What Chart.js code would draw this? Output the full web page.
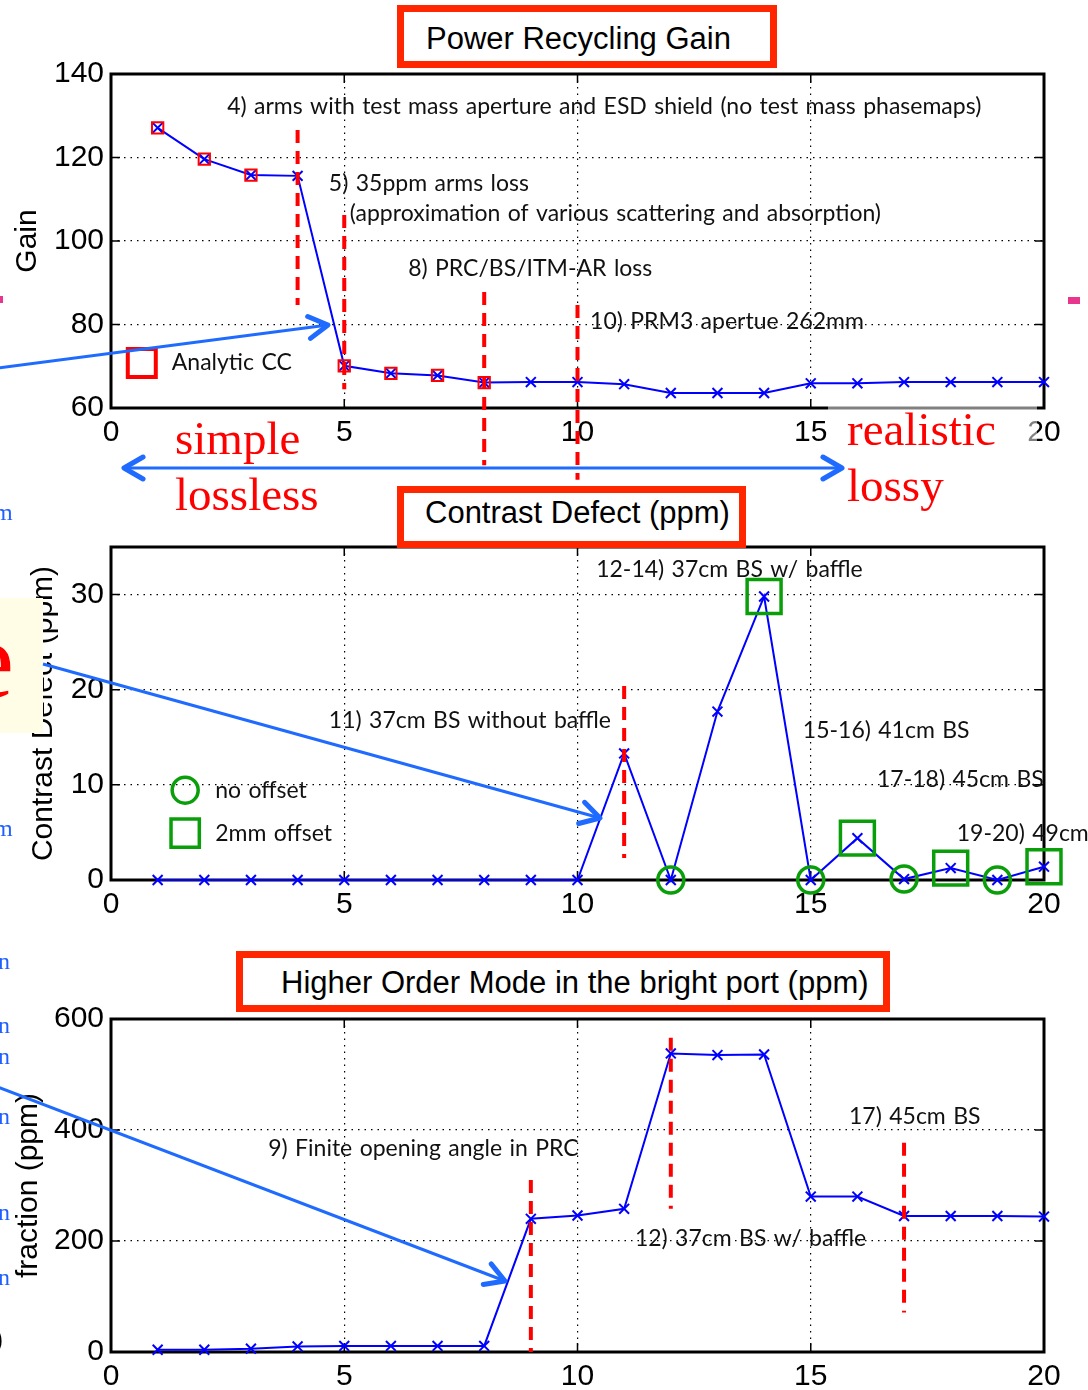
<!DOCTYPE html>
<html>
<head>
<meta charset="utf-8">
<script src="https://cdn.jsdelivr.net/npm/chart.js@4.4.1/dist/chart.umd.min.js"></script>
<style>
  html, body { margin: 0; padding: 0; background: #fff; }
  #page { position: relative; width: 1088px; height: 1390px; overflow: hidden; background: #fff; }
  .plot { position: absolute; left: 0; }
  #overlay { position: absolute; left: 0; top: 0; z-index: 5; pointer-events: none; }
  .tbox {
    position: absolute; box-sizing: border-box; border: 7px solid #ff2600; background: #fff; z-index: 4;
    font-family: "Liberation Sans", Arial, sans-serif; font-size: 31px; color: #000;
    display: flex; align-items: center; justify-content: flex-start; white-space: nowrap;
  }
</style>
</head>
<body>
<div id="page">
  <canvas id="gainChart" class="plot" style="top:0px"></canvas>
  <canvas id="cdChart" class="plot" style="top:486px"></canvas>
  <canvas id="homChart" class="plot" style="top:940px"></canvas>
  <div class="tbox" style="left:397px;top:5px;width:380px;height:63px;padding:4px 0 0 22px;">Power Recycling Gain</div>
  <div class="tbox" style="left:397px;top:486px;width:349px;height:62px;padding:0 0 9px 21px;">Contrast Defect (ppm)</div>
  <div class="tbox" style="left:236px;top:951px;width:654px;height:61px;padding:2px 0 0 38px;">Higher Order Mode in the bright port (ppm)</div>
  <canvas id="overlay" width="1088" height="1390"></canvas>
</div>

<script>
// ---- simulation steps (x axis) ----
const steps = [1, 2, 3, 4, 5, 6, 7, 8, 9, 10, 11, 12, 13, 14, 15, 16, 17, 18, 19, 20];
const xTicks = [0, 5, 10, 15, 20];

// ---- power recycling gain ----
const gain = [127.1, 119.6, 115.8, 115.6, 70.1, 68.3, 67.8, 66.1, 66.2, 66.2,
              65.7, 63.6, 63.6, 63.6, 65.9, 65.9, 66.2, 66.2, 66.2, 66.2];
const analyticSteps = [1, 2, 3, 5, 6, 7, 8];
const analyticGain = [127.1, 119.6, 115.8, 70.1, 68.3, 67.8, 66.1];
const gainTicks = [60, 80, 100, 120, 140];

// ---- contrast defect (ppm) ----
const contrast = [0, 0, 0, 0, 0, 0, 0, 0, 0, 0,
                  13.3, 0, 17.7, 29.8, 0, 4.4, 0.1, 1.25, 0, 1.4];
const noOffsetSteps = [12, 15, 17, 19];
const noOffsetCD = [0, 0, 0.1, 0];
const offsetSteps = [14, 16, 18, 20];
const offsetCD = [29.8, 4.4, 1.25, 1.4];
const cdTicks = [0, 10, 20, 30];

// ---- higher order mode content in the bright port (ppm) ----
const hom = [4, 4, 6, 10, 11, 11, 11, 11, 240, 246,
             258, 538, 535, 536, 280, 280, 245, 245, 245, 244];
const homTicks = [0, 200, 400, 600];

// ---- text notes and step markers ----
const gainNotes = [
  { x: 2.49, y: 132.1, text: '4) arms with test mass aperture and ESD shield (no test mass phasemaps)' },
  { x: 4.67, y: 113.7, text: '5) 35ppm arms loss' },
  { x: 5.12, y: 106.5, text: '(approximation of various scattering and absorption)' },
  { x: 6.37, y: 93.5, text: '8) PRC/BS/ITM-AR loss' },
  { x: 10.27, y: 80.8, text: '10) PRM3 apertue 262mm' }
];
const gainCuts = [
  { x: 4, from: 84.7, to: 126.6 },
  { x: 5, from: 64.5, to: 106.2 },
  { x: 8, from: 46.3, to: 87.8 },
  { x: 10, from: 42.8, to: 84.7 }
];
const cdNotes = [
  { x: 10.4, y: 32.6, text: '12-14) 37cm BS w/ baffle' },
  { x: 4.67, y: 16.8, text: '11) 37cm BS without baffle' },
  { x: 14.83, y: 15.7, text: '15-16) 41cm BS' },
  { x: 16.42, y: 10.6, text: '17-18) 45cm BS' },
  { x: 18.13, y: 4.9, text: '19-20) 49cm BS' }
];
const cdCuts = [ { x: 11, from: 2.3, to: 20.4 } ];
const homNotes = [
  { x: 3.37, y: 366, text: '9) Finite opening angle in PRC' },
  { x: 15.82, y: 425, text: '17) 45cm BS' },
  { x: 11.23, y: 204, text: '12) 37cm BS w/ baffle' }
];
const homCuts = [
  { x: 9, from: 0, to: 310 },
  { x: 12, from: 258, to: 566 },
  { x: 17, from: 71, to: 377 }
];

const BLUE = '#0000ff';
const RED = '#ff0000';
const GREEN = '#0a9e0a';
const NOTE_FONT = '23px Lato, "Open Sans", sans-serif';
const AXIS_FONT = { family: '"Liberation Sans", Arial, sans-serif', size: 30 };
const CLEAR = 'rgba(0,0,0,0)';

const pts = (xs, ys) => xs.map((x, i) => ({ x: x, y: ys[i] }));

// frame, inward ticks, dashed step markers, notes and in-plot legend
const decor = {
  id: 'decor',
  beforeDatasetsDraw(chart) {
    const { ctx, chartArea: a, scales } = chart;
    ctx.save();
    ctx.strokeStyle = '#000';
    ctx.lineWidth = 1.5;
    scales.x.ticks.forEach(t => {
      const px = scales.x.getPixelForValue(t.value);
      ctx.beginPath();
      ctx.moveTo(px, a.bottom); ctx.lineTo(px, a.bottom - 9);
      ctx.moveTo(px, a.top); ctx.lineTo(px, a.top + 9);
      ctx.stroke();
    });
    scales.y.ticks.forEach(t => {
      const py = scales.y.getPixelForValue(t.value);
      ctx.beginPath();
      ctx.moveTo(a.left, py); ctx.lineTo(a.left + 9, py);
      ctx.moveTo(a.right, py); ctx.lineTo(a.right - 9, py);
      ctx.stroke();
    });
    ctx.lineWidth = 3;
    ctx.strokeRect(a.left, a.top, a.right - a.left, a.bottom - a.top);
    ctx.restore();
  },
  afterDatasetsDraw(chart, args, opts) {
    const { ctx, scales } = chart;
    const xs = scales.x, ys = scales.y;
    ctx.save();
    ctx.strokeStyle = RED;
    ctx.lineWidth = 4;
    ctx.setLineDash([13, 8]);
    (opts.cuts || []).forEach(c => {
      const px = xs.getPixelForValue(c.x);
      ctx.beginPath();
      ctx.moveTo(px, ys.getPixelForValue(c.to));
      ctx.lineTo(px, ys.getPixelForValue(c.from));
      ctx.stroke();
    });
    ctx.setLineDash([]);
    ctx.textAlign = 'left';
    ctx.textBaseline = 'middle';
    if ('wordSpacing' in ctx) ctx.wordSpacing = '1.5px';
    (opts.notes || []).forEach(n => {
      ctx.font = NOTE_FONT;
      ctx.fillStyle = '#111';
      ctx.fillText(n.text, xs.getPixelForValue(n.x), ys.getPixelForValue(n.y));
    });
    (opts.legend || []).forEach(l => {
      const px = xs.getPixelForValue(l.x), py = ys.getPixelForValue(l.y);
      ctx.strokeStyle = l.color;
      ctx.fillStyle = CLEAR;
      ctx.lineWidth = l.width;
      Chart.helpers.drawPoint(ctx, { pointStyle: l.style, radius: l.radius, rotation: 0, borderWidth: l.width }, px, py);
      ctx.font = NOTE_FONT;
      ctx.fillStyle = '#111';
      ctx.fillText(l.text, px + l.gap, py);
    });
    ctx.restore();
  }
};

function axes(yMin, yMax, yTickVals, yTitle, titlePad, xAxisH, xPad) {
  const gridCommon = { color: '#000', lineWidth: 1.2, drawTicks: false, borderDash: [1.5, 5] };
  return {
    x: {
      type: 'linear', min: 0, max: 20,
      afterBuildTicks: s => { s.ticks = xTicks.map(v => ({ value: v })); },
      afterFit: s => { s.height = xAxisH; },
      grid: gridCommon,
      border: { display: false, dash: [1.5, 5] },
      ticks: { color: '#000', font: AXIS_FONT, padding: xPad, maxRotation: 0, autoSkip: false }
    },
    y: {
      type: 'linear', min: yMin, max: yMax,
      afterBuildTicks: s => { s.ticks = yTickVals.map(v => ({ value: v })); },
      afterFit: s => { s.width = 111; },
      grid: gridCommon,
      border: { display: false, dash: [1.5, 5] },
      ticks: { color: '#000', font: AXIS_FONT, padding: 7 },
      title: { display: true, text: yTitle, color: '#000', font: AXIS_FONT, padding: { top: titlePad, bottom: 0 } }
    }
  };
}

function makeChart(id, h, pad, datasets, scaleOpts, decorOpts) {
  const cv = document.getElementById(id);
  cv.width = 1088; cv.height = h;
  cv.style.width = '1088px'; cv.style.height = h + 'px';
  return new Chart(cv, {
    type: 'scatter',
    data: { datasets: datasets },
    options: {
      responsive: false, animation: false, devicePixelRatio: 1,
      layout: { padding: pad },
      scales: scaleOpts,
      plugins: { legend: { display: false }, tooltip: { enabled: false }, decor: decorOpts }
    },
    plugins: [decor]
  });
}

const blueLine = (data) => ({
  data: data, showLine: true, borderColor: BLUE, borderWidth: 2, fill: false, clip: false,
  pointStyle: 'crossRot', pointRadius: 7, pointBorderWidth: 2,
  pointBorderColor: BLUE, pointBackgroundColor: BLUE, order: 2
});
const hollow = (data, style, r, w, color) => ({
  data: data, showLine: false, clip: false, pointStyle: style, pointRadius: r,
  pointBorderWidth: w, pointBorderColor: color, pointBackgroundColor: CLEAR, order: 1
});

makeChart('gainChart', 486, { left: 0, top: 74, right: 44, bottom: 33 }, [
  blueLine(pts(steps, gain)),
  hollow(pts(analyticSteps, analyticGain), 'rect', 8, 2, RED)
], axes(60, 140, gainTicks, 'Gain', 10, 45, 7), {
  cuts: gainCuts, notes: gainNotes,
  legend: [{ x: 0.66, y: 70.8, style: 'rect', radius: 19.8, width: 4, color: RED, gap: 30, text: 'Analytic CC' }]
});

makeChart('cdChart', 454, { left: 0, top: 61, right: 44, bottom: 15 }, [
  blueLine(pts(steps, contrast)),
  hollow(pts(noOffsetSteps, noOffsetCD), 'circle', 13, 3.5, GREEN),
  hollow(pts(offsetSteps, offsetCD), 'rect', 24, 3.5, GREEN)
], axes(0, 35, cdTicks, 'Contrast Defect (ppm)', 26, 45, 7), {
  cuts: cdCuts, notes: cdNotes,
  legend: [
    { x: 1.59, y: 9.44, style: 'circle', radius: 13, width: 3.5, color: GREEN, gap: 30, text: 'no offset' },
    { x: 1.59, y: 4.93, style: 'rect', radius: 20, width: 3.5, color: GREEN, gap: 30, text: '2mm offset' }
  ]
});

makeChart('homChart', 450, { left: 0, top: 79, right: 44, bottom: 0 }, [
  blueLine(pts(steps, hom))
], axes(0, 600, homTicks, 'fraction (ppm)', 11, 38, 7), {
  cuts: homCuts, notes: homNotes
});

// ---- slide overlay: arrows, serif captions and clipped fragments ----
(function drawOverlay() {
  const ctx = document.getElementById('overlay').getContext('2d');
  const ARROW = '#1f6bff';

  function head(x, y, ang) {
    const L = 22, spread = Math.PI / 6;
    ctx.beginPath();
    ctx.moveTo(x - L * Math.cos(ang - spread), y - L * Math.sin(ang - spread));
    ctx.lineTo(x, y);
    ctx.lineTo(x - L * Math.cos(ang + spread), y - L * Math.sin(ang + spread));
    ctx.lineWidth = 5; ctx.lineCap = 'round'; ctx.lineJoin = 'round';
    ctx.stroke();
  }
  function arrow(x1, y1, x2, y2, both) {
    ctx.strokeStyle = ARROW;
    ctx.lineWidth = 3; ctx.lineCap = 'butt';
    ctx.beginPath(); ctx.moveTo(x1, y1); ctx.lineTo(x2, y2); ctx.stroke();
    const ang = Math.atan2(y2 - y1, x2 - x1);
    head(x2, y2, ang);
    if (both) head(x1, y1, ang + Math.PI);
  }

  // faded strip behind the "realistic" caption
  ctx.fillStyle = 'rgba(255,255,255,0.5)';
  ctx.fillRect(828, 405, 209, 42);

  // pale note card clipped at the left edge
  ctx.fillStyle = '#fffde6';
  ctx.fillRect(0, 598, 43, 135);
  ctx.fillStyle = RED;
  ctx.font = '110px "Liberation Serif", serif';
  ctx.textAlign = 'right'; ctx.textBaseline = 'alphabetic';
  ctx.fillText('e', 14, 697);

  arrow(-10, 369, 328, 325, false);
  arrow(124, 468, 842, 468, true);
  arrow(43, 664, 600, 818, false);
  arrow(-10, 1084, 505, 1281, false);

  ctx.fillStyle = RED;
  ctx.font = '47px "Liberation Serif", serif';
  ctx.textAlign = 'left';
  ctx.fillText('simple', 175, 454);
  ctx.fillText('lossless', 175, 510);
  ctx.fillText('realistic', 847, 445);
  ctx.fillText('lossy', 847, 501);

  // fragments of neighbouring slide text at the edges
  ctx.fillStyle = '#2060ff';
  ctx.font = '24px "Liberation Serif", serif';
  [[520, 'm', -6], [836, 'm', -6], [969, 'n', -2], [1033, 'n', -2], [1064, 'n', -2],
   [1124, 'n', -2], [1220, 'n', -2], [1285, 'n', -2]]
    .forEach(f => ctx.fillText(f[1], f[2], f[0]));
  ctx.fillStyle = '#000';
  ctx.font = '28px "Liberation Sans", sans-serif';
  ctx.fillText(')', -6, 1348);
  ctx.fillStyle = '#e8368f';
  ctx.fillRect(0, 296, 3, 7);
  ctx.fillRect(1068, 297, 12, 7);
})();
</script>
</body>
</html>
